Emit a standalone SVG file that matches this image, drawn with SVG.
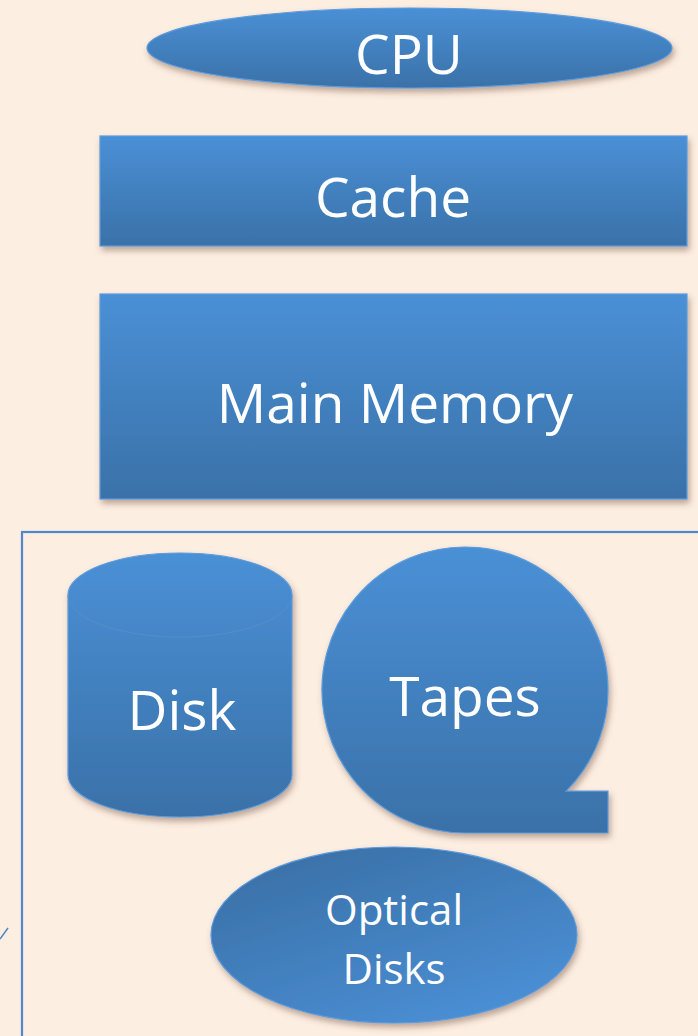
<svg xmlns="http://www.w3.org/2000/svg" width="698" height="1036" viewBox="0 0 698 1036">
  <defs>
    <linearGradient id="gv" x1="0" y1="0" x2="0" y2="1">
      <stop offset="0" stop-color="#4a90d6"/>
      <stop offset="1" stop-color="#3a71a8"/>
    </linearGradient>
    <linearGradient id="gd" x1="0.15" y1="0" x2="0.85" y2="1">
      <stop offset="0" stop-color="#3a6fa5"/>
      <stop offset="1" stop-color="#4b91d8"/>
    </linearGradient>
    <filter id="sh" x="-10%" y="-10%" width="125%" height="130%">
      <feDropShadow dx="2" dy="4" stdDeviation="3" flood-color="#6b4a30" flood-opacity="0.45"/>
    </filter>
  </defs>
  <style>
    .shape { fill: url(#gv); stroke: #5b9bdc; stroke-width: 1.2; filter: url(#sh); }
    .lbl { font-family: "Open Sans", "Noto Sans", sans-serif; fill: #ffffff; text-anchor: middle; }
    .big { font-size: 55px; }
    .small { font-size: 42px; }
  </style>
  <rect x="0" y="0" width="698" height="1036" fill="#fdeee2"/>

  <g id="connectors">
    <line x1="0" y1="939" x2="8" y2="928" stroke="#4f86c6" stroke-width="1.5"/>
  </g>

  <g id="storage-group">
    <rect x="22" y="532" width="700" height="540" fill="none" stroke="#4f88cc" stroke-width="2.2"/>
  </g>

  <g id="cpu">
    <ellipse class="shape" cx="409.5" cy="48" rx="262.5" ry="40"/>
    <text class="lbl big" x="409" y="74">CPU</text>
  </g>

  <g id="cache">
    <rect class="shape" x="100" y="136" width="587" height="110"/>
    <text class="lbl big" x="393" y="217">Cache</text>
  </g>

  <g id="main-memory">
    <rect class="shape" x="100" y="294" width="587" height="205"/>
    <text class="lbl big" x="395" y="423">Main Memory</text>
  </g>

  <g id="disk">
    <path class="shape" d="M68 595 A112 42 0 0 1 292 595 L292 775 A112 42 0 0 1 68 775 Z"/>
    <path d="M68 595 A112 42 0 0 0 292 595" fill="none" stroke="#5a8fc8" stroke-width="1" opacity="0.8"/>
    <text class="lbl big" x="182" y="730">Disk</text>
  </g>

  <g id="tapes">
    <path class="shape" d="M566.1 791.1 A143 143 0 1 0 465 833 L608 833 L608 791.1 Z"/>
    <text class="lbl big" x="465" y="716">Tapes</text>
  </g>

  <g id="optical-disks">
    <ellipse cx="394" cy="935" rx="183" ry="88" fill="url(#gd)" stroke="#5b9bdc" stroke-width="1.2" filter="url(#sh)"/>
    <text class="lbl small" x="394" y="925">Optical</text>
    <text class="lbl small" x="394" y="984">Disks</text>
  </g>
</svg>
